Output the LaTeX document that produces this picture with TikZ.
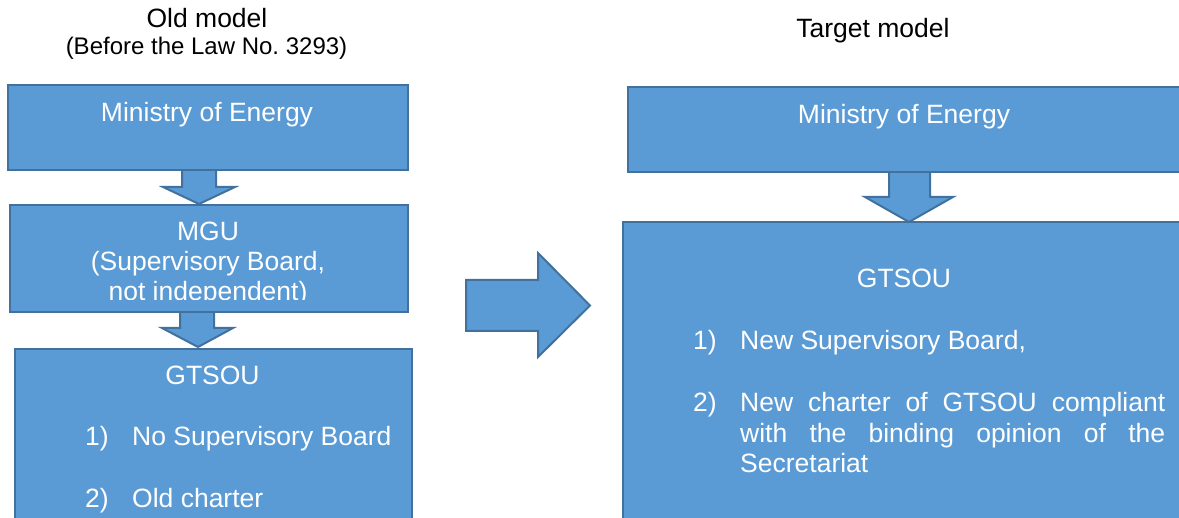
\documentclass[tikz,border=0pt]{standalone}
\usepackage{fontspec}
\setmainfont{Liberation Sans}
\definecolor{boxfill}{HTML}{5B9BD5}
\definecolor{boxline}{HTML}{41719C}
\begin{document}
\begin{tikzpicture}[x=1pt,y=-1pt,
  box/.style={draw=boxline, fill=boxfill, line width=2pt, inner sep=0pt, anchor=north west},
  blockarrow/.style={draw=boxline, fill=boxfill, line width=2pt, line join=miter},
  boxtext/.style={text=white, font=\fontsize{26.5}{30}\selectfont, inner sep=0pt, anchor=base},
  listtext/.style={text=white, font=\fontsize{26.5}{30.2}\selectfont, inner sep=0pt, anchor=base west},
  titletext/.style={text=black, inner sep=0pt, anchor=base}]
\useasboundingbox (0,0) rectangle (1179,518);
\clip (0,0) rectangle (1179,518);

% titles
\node[titletext, font=\fontsize{26.5}{30}\selectfont] (oldt) at (207,28) {Old model};
\node[titletext, font=\fontsize{24}{28}\selectfont] (olds) at (206.5,55) {(Before the Law No.\ 3293)};
\node[titletext, font=\fontsize{26.5}{30}\selectfont] (tgt) at (873,38) {Target model};

% block arrows (drawn below the boxes)
\draw[blockarrow] (182,169) -- (182,187) -- (163,187) -- (199,204) -- (235,187) -- (216,187) -- (216,169) -- cycle;
\draw[blockarrow] (180,311) -- (180,328) -- (162,328) -- (198,347) -- (233,328) -- (214,328) -- (214,311) -- cycle;
\draw[blockarrow] (889,171) -- (889,197) -- (865,197) -- (909,222) -- (953,197) -- (930,197) -- (930,171) -- cycle;
\draw[blockarrow] (466,280) -- (538,280) -- (538,253) -- (590,305.5) -- (538,357) -- (538,331) -- (466,331) -- cycle;

% left column boxes
\node[box, minimum width=400pt, minimum height=85pt] (lmin) at (7,84) {};
\node[box, minimum width=398pt, minimum height=107pt] (lmgu) at (9,204) {};
\node[box, minimum width=397pt, minimum height=200pt] (lgts) at (14,348) {};

% right column boxes
\node[box, minimum width=554pt, minimum height=85pt] (rmin) at (627,86) {};
\node[box, minimum width=564pt, minimum height=320pt] (rgts) at (622,221) {};

% left texts
\node[boxtext] (lmint) at (207,122) {Ministry of Energy};
\begin{scope}
  \clip (9,204) rectangle (407,299.5);
  \node[boxtext] (lmgut) at (208,240.7) {\begin{tabular}[t]{@{}c@{}}MGU\\(Supervisory Board,\\not independent)\end{tabular}};
\end{scope}
\node[boxtext] (lgtst) at (212.5,385) {GTSOU};
\node[listtext] (ln1) at (85,446) {1)};
\node[listtext] (li1) at (132,446) {No Supervisory Board};
\node[listtext] (ln2) at (85,508) {2)};
\node[listtext] (li2) at (132,508) {Old charter};

% right texts
\node[boxtext] (rmint) at (904,124) {Ministry of Energy};
\node[boxtext] (rgtst) at (904,288) {GTSOU};
\node[listtext] (rn1) at (693,350) {1)};
\node[listtext] (ri1) at (740,350) {New Supervisory Board,};
\node[listtext] (rn2) at (693,412) {2)};
\node[listtext] (ri2) at (740,412) {\parbox[t]{425pt}{\hyphenpenalty=10000\exhyphenpenalty=10000\parfillskip=0pt plus 1fil New charter of GTSOU compliant with the binding opinion of the Secretariat}};
\end{tikzpicture}
\end{document}
